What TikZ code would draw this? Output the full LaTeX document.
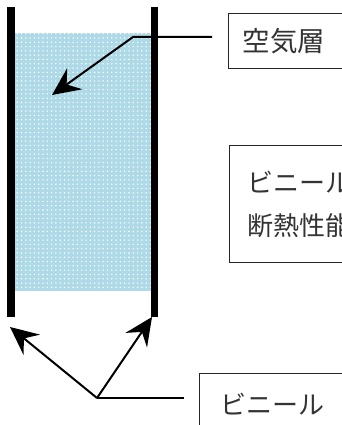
\documentclass[tikz,border=0pt]{standalone}
\usepackage{fontspec}
\newfontfamily\jp{Noto Sans CJK JP}
\usetikzlibrary{arrows.meta,patterns.meta}
\definecolor{airblue}{RGB}{174,217,230}
\begin{document}
\begin{tikzpicture}[x=1pt,y=-1pt,
  wall/.style={fill=black},
  lblbox/.style={draw=black!85, line width=1.3pt, anchor=north west,
    font=\jp\fontsize{26}{43}\selectfont, text=black!80, align=left,
    text width=170pt, inner xsep=14pt, inner ysep=0pt},
  ptr/.style={line width=2pt, -{Stealth[length=28pt,width=26pt,inset=10pt]}},
  lead/.style={line width=2pt}]
\useasboundingbox (0,0) rectangle (342,425);
\clip (0,0) rectangle (342,425);
% air layer
\fill[airblue] (15,33) rectangle (151,291);
\fill[pattern={Dots[distance=4.3pt,radius=0.8pt]}, pattern color=white] (15,33) rectangle (151,291);
% vinyl walls
\fill[wall] (7,7) rectangle (15,317);
\fill[wall] (151,7) rectangle (158,317);
% labels
\node[lblbox, minimum height=55pt, font=\jp\fontsize{27.5}{43}\selectfont] (air) at (228,13) {空気層};
\node[lblbox, minimum height=117pt, inner xsep=18pt] (ins) at (228.5,145) {ビニール\\断熱性能};
\node[lblbox, minimum height=60pt, inner xsep=21pt] (vin) at (199,373) {ビニール};
% air pointer
\coordinate (a0) at (212,37);
\coordinate (a1) at (133,37);
\coordinate (a2) at (52,95);
\draw[ptr] (a0) -- (a1) -- (a2);
% vinyl pointers
\coordinate (b0) at (184,398);
\coordinate (bj) at (97,398);
\coordinate (bl) at (10,327);
\coordinate (br) at (152,317);
\draw[lead] (b0) -- (bj);
\draw[ptr] (bj) -- (bl);
\draw[ptr] (bj) -- (br);
\end{tikzpicture}
\end{document}
